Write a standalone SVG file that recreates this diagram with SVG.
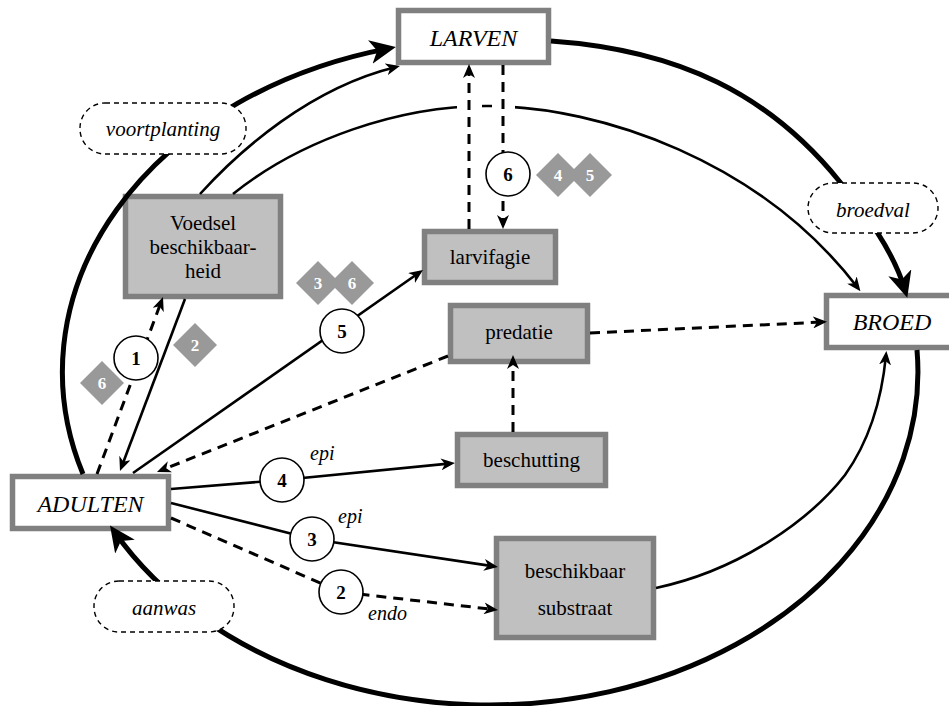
<svg xmlns="http://www.w3.org/2000/svg" xmlns:xlink="http://www.w3.org/1999/xlink" width="949" height="706" viewBox="0 0 949 706">
<style>
.box{stroke:#808080;stroke-width:5.5}
.g{fill:#c0c0c0}
.w{fill:#fff}
.t{font-family:'Liberation Serif','Times New Roman',serif;font-size:21px;text-anchor:middle;fill:#000}
.ti{font-style:italic}
.big{font-size:24px}
.sm{font-size:20px;text-anchor:start}
.lbl{fill:#fff;stroke:#000;stroke-width:1.4;stroke-dasharray:5,4}
.thick{fill:none;stroke:#000;stroke-width:5}
.thin{fill:none;stroke:#000;stroke-width:2.6}
.dash{fill:none;stroke:#000;stroke-width:3;stroke-dasharray:10,7}
.circ{fill:#fff;stroke:#000;stroke-width:1.6}
.num{font-weight:bold;font-size:19px}
.dia{fill:#999}
.dnum{fill:#fff;font-weight:bold;font-size:17px}
</style>
<defs>
<marker id="ah" viewBox="0 0 14 12" refX="10" refY="6" markerWidth="14" markerHeight="12" markerUnits="userSpaceOnUse" orient="auto"><path d="M0,0 L14,6 L0,12 L4,6 z" fill="#000"/></marker>
<marker id="ahb" viewBox="0 0 26 24" refX="18" refY="12" markerWidth="26" markerHeight="24" markerUnits="userSpaceOnUse" orient="auto"><path d="M0,0 L26,12 L0,24 L7,12 z" fill="#000"/></marker>
<mask id="gapmask" maskUnits="userSpaceOnUse" x="0" y="0" width="949" height="706">
<rect x="0" y="0" width="949" height="706" fill="#fff"/>
<rect x="457" y="92" width="25" height="30" fill="#000"/>
<rect x="492" y="92" width="23" height="30" fill="#000"/>
</mask>
<path id="dia" d="M0,-22 L22,0 L0,22 L-22,0 z"/>
</defs>

<g id="nodes">
<g id="larven"><rect class="box w" x="398.5" y="10.5" width="150" height="52"/><text class="t ti big" x="473.5" y="46">LARVEN</text></g>
<g id="broed"><rect class="box w" x="826.5" y="295.5" width="135" height="52"/><text class="t ti big" x="892" y="330">BROED</text></g>
<g id="adulten"><rect class="box w" x="12.5" y="476.5" width="156" height="52"/><text class="t ti big" x="90.5" y="512">ADULTEN</text></g>
<g id="voedsel"><rect class="box g" x="125.5" y="196.5" width="155" height="100"/><text class="t" x="203" y="230">Voedsel</text><text class="t" x="203" y="254">beschikbaar-</text><text class="t" x="203" y="278">heid</text></g>
<g id="larvifagie"><rect class="box g" x="424.5" y="231.5" width="131" height="51"/><text class="t" x="490" y="264">larvifagie</text></g>
<g id="predatie"><rect class="box g" x="450.5" y="305.5" width="137" height="56"/><text class="t" x="519" y="339">predatie</text></g>
<g id="beschutting"><rect class="box g" x="457.5" y="434.5" width="148" height="51"/><text class="t" x="531.5" y="467">beschutting</text></g>
<g id="substraat"><rect class="box g" x="496.5" y="538.5" width="157" height="99"/><text class="t" x="575" y="578">beschikbaar</text><text class="t" x="575" y="615">substraat</text></g>
</g>

<g id="connectors">
<path class="thick" d="M83,474 A428,333 0 0 1 388,48.6" marker-end="url(#ahb)"/>
<path class="thick" d="M551,41 C680,50 770,95 840,182 C865,213 893,250 905,290" marker-end="url(#ahb)"/>
<path class="thick" d="M917,350 A428,333 0 0 1 114.6,532" marker-end="url(#ahb)"/>
<path class="thin" d="M200,194 C240,150 310,88 396,67" marker-end="url(#ah)"/>
<path class="thin" d="M233,194 C300,140 400,105 490,106 C600,107 760,160 858,288" mask="url(#gapmask)" marker-end="url(#ah)"/>
<path class="thin" d="M656,588 C740,570 810,520 845,475 C870,440 882,397 886,355" marker-end="url(#ah)"/>
<path class="thin" d="M185,299 L121.4,467.3" marker-end="url(#ah)"/>
<path class="dash" d="M97,474 L161.6,300.7" marker-end="url(#ah)"/>
<path class="thin" d="M133,473 L419.7,272.3" marker-end="url(#ah)"/>
<path class="dash" d="M448,356 L160.7,470.5" marker-end="url(#ah)"/>
<path class="thin" d="M171,489 L282,480 L451,463.4" marker-end="url(#ah)"/>
<path class="thin" d="M171,503 L312,539 L494,566.4" marker-end="url(#ah)"/>
<path class="dash" d="M171,518 L341,592 L494,609.5" marker-end="url(#ah)"/>
<path class="dash" d="M503,65 L503,225" marker-end="url(#ah)"/>
<path class="dash" d="M469,229 L469,68" marker-end="url(#ah)"/>
<path class="dash" d="M590,333 L823,322" marker-end="url(#ah)"/>
<path class="dash" d="M513,432 L513,359" marker-end="url(#ah)"/>
</g>

<g id="processes">
<g id="voortplanting"><rect class="lbl" x="80" y="103" width="166" height="51" rx="25"/><text class="t ti" x="163" y="136">voortplanting</text></g>
<g id="broedval"><rect class="lbl" x="808" y="183" width="130" height="50" rx="25"/><text class="t ti" x="873" y="217">broedval</text></g>
<g id="aanwas"><rect class="lbl" x="94" y="581" width="140" height="51" rx="25"/><text class="t ti" x="164" y="615">aanwas</text></g>
</g>

<g id="edge-labels">
<text class="t ti sm" x="310" y="460">epi</text>
<text class="t ti sm" x="338" y="523">epi</text>
<text class="t ti sm" x="368" y="620">endo</text>
<g id="c1"><circle class="circ" cx="136" cy="358" r="22"/><text class="t num" x="136" y="365">1</text></g>
<g id="c2"><circle class="circ" cx="341" cy="592" r="22"/><text class="t num" x="341" y="599">2</text></g>
<g id="c3"><circle class="circ" cx="312" cy="539" r="22"/><text class="t num" x="312" y="546">3</text></g>
<g id="c4"><circle class="circ" cx="282" cy="480" r="22"/><text class="t num" x="282" y="487">4</text></g>
<g id="c5"><circle class="circ" cx="342" cy="331" r="22"/><text class="t num" x="342" y="338">5</text></g>
<g id="c6"><circle class="circ" cx="508" cy="174" r="22"/><text class="t num" x="508" y="181">6</text></g>
</g>

<g id="badges">
<g id="d6a"><use xlink:href="#dia" class="dia" transform="translate(102,383)"/><text class="t dnum" x="102" y="389">6</text></g>
<g id="d2"><use xlink:href="#dia" class="dia" transform="translate(195,345)"/><text class="t dnum" x="195" y="351">2</text></g>
<g id="d3"><use xlink:href="#dia" class="dia" transform="translate(318,283)"/><text class="t dnum" x="318" y="289">3</text></g>
<g id="d6b"><use xlink:href="#dia" class="dia" transform="translate(352,283)"/><text class="t dnum" x="352" y="289">6</text></g>
<g id="d4"><use xlink:href="#dia" class="dia" transform="translate(558,175)"/><text class="t dnum" x="558" y="181">4</text></g>
<g id="d5"><use xlink:href="#dia" class="dia" transform="translate(590,175)"/><text class="t dnum" x="590" y="181">5</text></g>
</g>
</svg>
